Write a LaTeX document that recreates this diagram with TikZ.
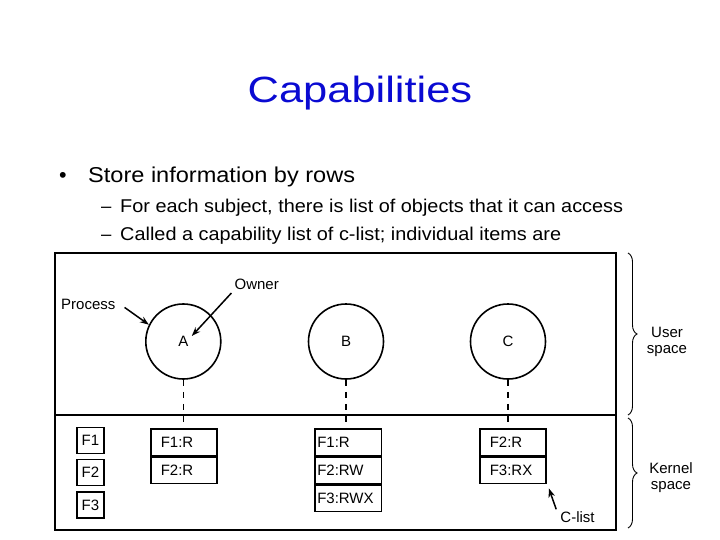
\documentclass[tikz,border=0pt]{standalone}
\usepackage{fontspec}
\setmainfont{Liberation Sans}
\usetikzlibrary{arrows.meta,decorations.pathreplacing}
\definecolor{titleblue}{RGB}{10,10,210}

\begin{document}
\begin{tikzpicture}[x=1pt, y=-1pt, >={Stealth[length=9pt, width=6.5pt]},
    lbl/.style={inner sep=0pt, font=\fontsize{15}{16}\selectfont},
    proc/.style={draw, line width=1.6pt, circle, minimum size=75pt, inner sep=0pt, font=\fontsize{15}{16}\selectfont},
    filebox/.style={draw, line width=1.6pt, minimum width=27pt, minimum height=26pt, inner sep=0pt, font=\fontsize{15}{16}\selectfont},
    cell/.style={draw, line width=1.5pt, anchor=north west, minimum height=26.5pt, inner ysep=0pt, align=left, font=\fontsize{15}{16}\selectfont},
    dashlink/.style={line width=1.5pt, dash pattern=on 6pt off 6pt},
    pointer/.style={->, line width=1.5pt},
    brc/.style={decorate, decoration={brace, amplitude=9pt}, line width=0.9pt}]
  \useasboundingbox (0,0) rectangle (720,540);

  % Titel und Stichpunkte
  \node[anchor=base, inner sep=0pt, text=titleblue, font=\fontsize{36.5}{40}\selectfont, xscale=1.19] (title) at (360,103) {Capabilities};
  \node[anchor=base, inner sep=0pt, font=\fontsize{21.5}{24}\selectfont] (dot) at (63,182.5) {\textbullet};
  \node[anchor=base west, inner sep=0pt, font=\fontsize{21.5}{24}\selectfont, xscale=1.095] (b1) at (88,182.5) {Store information by rows};
  \node[anchor=base west, inner sep=0pt, font=\fontsize{18.5}{20}\selectfont] (d1) at (101,212) {–};
  \node[anchor=base west, inner sep=0pt, font=\fontsize{18.5}{20}\selectfont, xscale=1.075] (s1) at (120,212) {For each subject, there is list of objects that it can access};
  \node[anchor=base west, inner sep=0pt, font=\fontsize{18.5}{20}\selectfont] (d2) at (101,240.5) {–};
  \node[anchor=base west, inner sep=0pt, font=\fontsize{18.5}{20}\selectfont, xscale=1.075] (s2) at (120,240.5) {Called a capability list of c-list; individual items are};

  % Rahmen: oben User space, unten Kernel space
  \draw[line width=2pt] (55,253) rectangle (616,530);
  \draw[line width=2pt] (55,415) -- (616,415);

  % Prozesse
  \node[proc] (A) at (183.3,341.5) {A};
  \node[proc] (B) at (346,341.5) {B};
  \node[proc] (C) at (508,341.5) {C};

  % Dateien
  \foreach \i in {1,2,3}
    \node[filebox] (f\i) at (90.5,{440.3+32.3*(\i-1)}) {F\i};

  % C-Listen
  \node[cell, inner xsep=10pt, text width=46pt] (a1) at (150,428.3) {F1:R};
  \node[cell, inner xsep=10pt, text width=46pt] (a2) at (a1.south west) {F2:R};

  \node[cell, inner xsep=2.5pt, text width=61.7pt] (b1) at (314,428.3) {F1:R};
  \node[cell, inner xsep=2.5pt, text width=61.7pt] (b2) at (b1.south west) {F2:RW};
  \node[cell, inner xsep=2.5pt, text width=61.7pt] (b3) at (b2.south west) {F3:RWX};

  \node[cell, inner xsep=10pt, text width=46pt] (c1) at (479,428.3) {F2:R};
  \node[cell, inner xsep=10pt, text width=46pt] (c2) at (c1.south west) {F3:RX};

  % Verbindungen Prozess -> Liste
  \draw[dashlink] (A.south) -- (A.south |- a1.north);
  \draw[dashlink] (B.south) -- (B.south |- b1.north);
  \draw[dashlink] (C.south) -- (C.south |- c1.north);

  % Beschriftungen mit Pfeilen
  \node[lbl] (process) at (88.3,304) {Process};
  \node[lbl] (owner) at (256.7,284.5) {Owner};
  \node[lbl] (clist) at (577.5,517) {C-list};
  \coordinate (ownTip) at ([shift={(8.5,-5.5)}]A.center);
  \draw[pointer] ([shift={(9,-2)}]process.south east) -- (A.154);
  \draw[pointer] ([shift={(-3,3)}]owner.south west) -- (ownTip);
  \draw[pointer] ([shift={(-4,-2)}]clist.north west) -- ([shift={(2.3,4)}]c2.south east);

  % Klammern rechts
  \draw[brc] (628,253) -- (628,415);
  \draw[brc] (628,418) -- (628,528);
  \node[lbl, align=center] (user) at (667,342) {User\\space};
  \node[lbl, align=center] (kernel) at (671,478) {Kernel\\space};
\end{tikzpicture}
\end{document}
